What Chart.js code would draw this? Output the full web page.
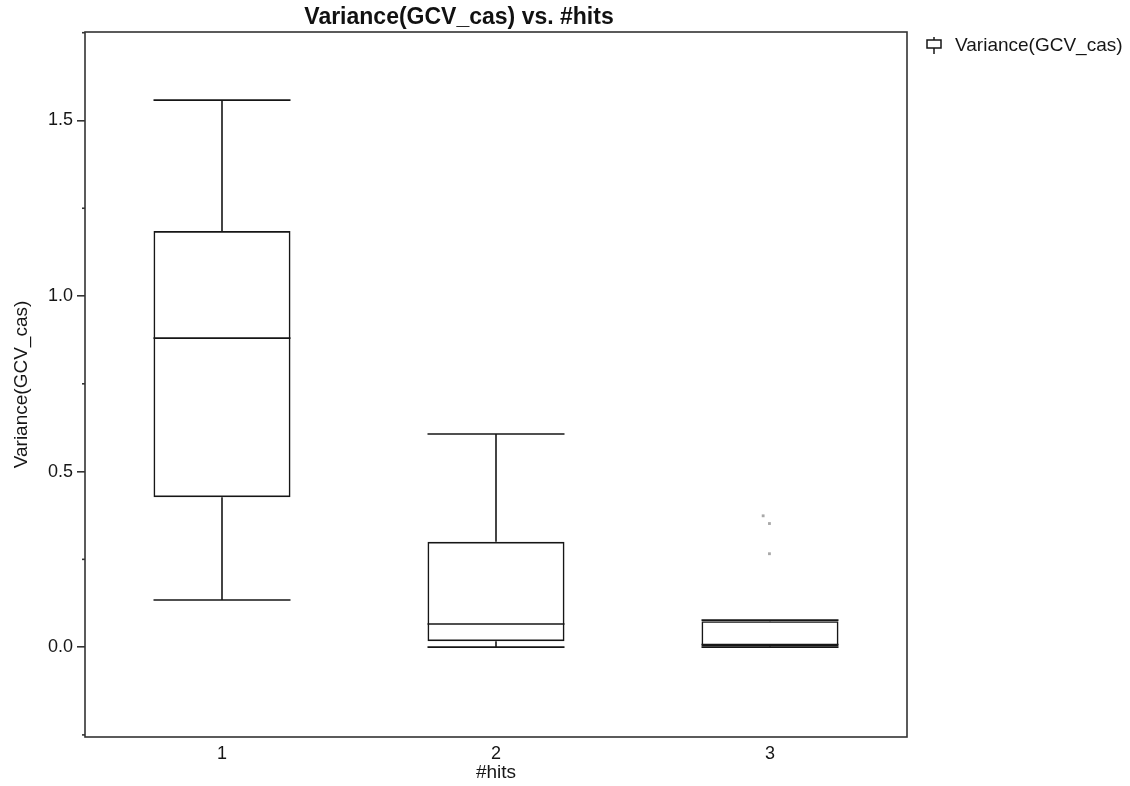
<!DOCTYPE html>
<html>
<head>
<meta charset="utf-8">
<script src="https://cdn.jsdelivr.net/npm/chart.js@4.4.1/dist/chart.umd.min.js"></script>
<style>
  body { margin: 0; background: #fff; }
  #wrap { width: 1130px; height: 786px; }
</style>
</head>
<body>
<div id="wrap"><canvas id="chart" width="1130" height="786"></canvas></div>
<script>
// box plot values
const categories = ['1', '2', '3'];
const whiskerLow = [0.134, 0.0, 0.0];
const q1 = [0.427, 0.017, 0.002];
const median = [0.880, 0.066, 0.007];
const q3 = [1.185, 0.300, 0.074];
const whiskerHigh = [1.558, 0.607, 0.077];

// outliers (x is the category position, slightly jittered)
const outlierX = [2.975, 2.998, 2.998];
const outlierY = [0.374, 0.352, 0.266];

const yMajorTicks = [0, 0.5, 1.0, 1.5];
const yMinorTicks = [-0.25, 0.25, 0.75, 1.25, 1.75];

const seriesName = 'Variance(GCV_cas)';
const chartTitle = 'Variance(GCV_cas) vs. #hits';
const xTitle = '#hits';

const FONT = "'Liberation Sans', Arial, sans-serif";
const INK = '#161616';

const boxPlugin = {
    id: 'boxParts',
    afterDatasetsDraw(chart) {
        const ctx = chart.ctx;
        const y = chart.scales.y;
        const meta = chart.getDatasetMeta(0);
        ctx.save();
        ctx.strokeStyle = INK;
        ctx.lineWidth = 1.6;
        meta.data.forEach((bar, i) => {
            const p = bar.getProps(['x', 'width'], true);
            const l = p.x - p.width / 2, r = p.x + p.width / 2;
            const line = (x1, y1, x2, y2) => {
                ctx.beginPath(); ctx.moveTo(x1, y1); ctx.lineTo(x2, y2); ctx.stroke();
            };
            line(l, y.getPixelForValue(median[i]), r, y.getPixelForValue(median[i]));
            line(p.x, y.getPixelForValue(q3[i]), p.x, y.getPixelForValue(whiskerHigh[i]));
            line(p.x, y.getPixelForValue(q1[i]), p.x, y.getPixelForValue(whiskerLow[i]));
            line(l, y.getPixelForValue(whiskerHigh[i]), r, y.getPixelForValue(whiskerHigh[i]));
            line(l, y.getPixelForValue(whiskerLow[i]), r, y.getPixelForValue(whiskerLow[i]));
        });
        ctx.restore();
    }
};

const framePlugin = {
    id: 'frame',
    afterDraw(chart) {
        const ctx = chart.ctx;
        const a = chart.chartArea;
        const y = chart.scales.y;
        ctx.save();
        ctx.strokeStyle = '#333';
        ctx.lineWidth = 1.6;
        ctx.strokeRect(a.left, a.top, a.right - a.left, a.bottom - a.top);
        // minor ticks
        yMinorTicks.forEach(v => {
            const py = y.getPixelForValue(v);
            ctx.beginPath(); ctx.moveTo(a.left - 3, py); ctx.lineTo(a.left, py); ctx.stroke();
        });

        // title
        ctx.fillStyle = '#111';
        ctx.font = 'bold 23px ' + FONT;
        ctx.textAlign = 'center';
        ctx.textBaseline = 'middle';
        ctx.fillText(chartTitle, 459, 18);

        // legend
        const lx = 934, ly = 45;
        ctx.strokeStyle = INK;
        ctx.lineWidth = 1.5;
        ctx.strokeRect(lx - 7, ly - 5, 14, 8);
        ctx.beginPath(); ctx.moveTo(lx, ly + 3); ctx.lineTo(lx, ly + 9); ctx.stroke();
        ctx.beginPath(); ctx.moveTo(lx, ly - 5); ctx.lineTo(lx, ly - 8); ctx.stroke();
        ctx.font = '19px ' + FONT;
        ctx.fillStyle = INK;
        ctx.textAlign = 'left';
        ctx.fillText(seriesName, 955, ly + 1);
        ctx.restore();
    }
};

new Chart(document.getElementById('chart'), {
    type: 'bar',
    data: {
        labels: categories,
        datasets: [{
            label: seriesName,
            data: categories.map((c, i) => [q1[i], q3[i]]),
            backgroundColor: 'rgba(0,0,0,0)',
            borderColor: INK,
            borderWidth: 1.6,
            borderSkipped: false,
            grouped: false,
            barPercentage: 0.5,
            categoryPercentage: 1.0
        }, {
            type: 'scatter',
            label: 'outliers',
            xAxisID: 'xOut',
            data: outlierX.map((x, i) => ({ x: x, y: outlierY[i] })),
            pointStyle: 'rect',
            pointRadius: 2,
            backgroundColor: '#a8a8a8',
            borderWidth: 0
        }]
    },
    options: {
        responsive: false,
        animation: false,
        layout: { padding: { top: 32, right: 223, bottom: 0, left: 0 } },
        plugins: {
            legend: { display: false },
            title: { display: false },
            tooltip: { enabled: false }
        },
        scales: {
            x: {
                type: 'category',
                offset: true,
                grid: { display: false, drawTicks: false },
                border: { display: false },
                ticks: { font: { family: FONT, size: 18 }, color: INK, padding: 6 },
                title: { display: true, text: xTitle, font: { family: FONT, size: 19 }, color: INK, padding: { top: 0, bottom: 2 } },
                afterFit: s => { s.height = 49; }
            },
            xOut: {
                type: 'linear',
                min: 0.5,
                max: 3.5,
                offset: false,
                display: false
            },
            y: {
                min: -0.256,
                max: 1.752,
                afterBuildTicks: s => { s.ticks = yMajorTicks.map(v => ({ value: v })); },
                ticks: { font: { family: FONT, size: 18 }, color: INK, padding: 4, callback: v => v.toFixed(1) },
                grid: { drawOnChartArea: false, tickLength: 8, color: '#333', lineWidth: 1.6 },
                border: { display: false },
                title: { display: true, text: seriesName, font: { family: FONT, size: 19 }, color: INK, padding: { top: 10, bottom: 0 } },
                afterFit: s => { s.width = 85; }
            }
        }
    },
    plugins: [boxPlugin, framePlugin]
});
</script>
</body>
</html>
